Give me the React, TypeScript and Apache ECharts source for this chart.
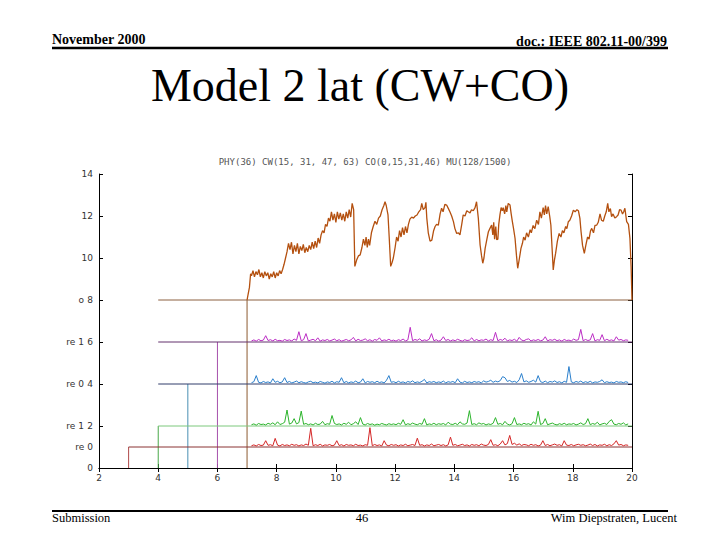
import React, { useEffect, useRef } from "react";
import * as echarts from "echarts";

// ---- Axis ticks / labels ----
const xTicks = [2, 4, 6, 8, 10, 12, 14, 16, 18, 20];
const yTicks = [0, 2, 4, 6, 8, 10, 12, 14];
const sideLabelValues = [1, 2, 4, 6, 8];
const sideLabelTexts = ["re 0", "re 1", "re 0", "re 1", "o"];

// ---- Step frames (vertical rise at x, level, horizontal start) ----
const frameNames = ["red", "green", "blue", "purple", "brown"];
const frameRiseX = [3, 4, 5, 6, 7];
const frameLevel = [1, 2, 4, 6, 8];
const frameStartX = [3, 4, 4, 4, 4];
const frameRiseColors = ["#b04848", "#48a848", "#4a90b4", "#a650ac", "#8c5a30"];
const frameLevelColors = ["#8a3232", "#7cc87c", "#303c6a", "#62306c", "#8c6040"];

// ---- Latency trace (top, brown) ----
const brownPoints: [number, number][] = [
  [7.0, 8.0], [7.04, 8.3], [7.08, 8.6], [7.12, 9.25],
  [7.15, 9.15], [7.2, 9.4], [7.25, 9.1], [7.3, 9.35], [7.35, 9.2], [7.4, 9.45], [7.45, 9.1], [7.5, 9.3], [7.55, 9.05], [7.6, 9.35],
  [7.65, 9.15], [7.7, 9.3], [7.75, 9.0], [7.8, 9.25], [7.85, 9.1], [7.9, 9.35], [7.95, 9.05], [8.0, 9.3], [8.05, 9.15], [8.1, 9.4],
  [8.15, 9.25], [8.2, 9.45], [8.25, 9.7], [8.3, 10.0], [8.35, 10.3], [8.4, 10.7],
  [8.45, 10.4], [8.5, 10.75], [8.55, 10.2], [8.6, 10.6], [8.65, 10.3], [8.7, 10.7], [8.75, 10.2], [8.8, 10.55], [8.85, 10.35],
  [8.9, 10.65], [8.95, 10.25], [9.0, 10.5], [9.05, 10.3], [9.1, 10.6], [9.15, 10.4], [9.2, 10.75], [9.25, 10.45], [9.3, 10.8],
  [9.35, 10.5], [9.4, 10.95], [9.45, 10.7],
  [9.5, 11.1], [9.55, 11.3], [9.6, 11.2], [9.65, 11.6], [9.7, 11.5], [9.75, 11.9],
  [9.8, 11.75], [9.85, 12.2], [9.9, 11.8], [9.95, 12.1], [10.0, 11.7], [10.05, 12.2], [10.1, 11.85], [10.15, 12.15], [10.2, 11.8],
  [10.25, 12.1], [10.3, 11.75], [10.35, 12.2], [10.4, 11.9], [10.45, 12.3], [10.5, 11.95], [10.55, 12.6], [10.6, 12.3],
  [10.64, 9.6], [10.7, 9.9], [10.76, 10.1], [10.82, 10.15], [10.88, 10.5], [10.93, 10.9], [10.98, 10.6], [11.02, 11.0],
  [11.06, 10.5], [11.1, 10.9], [11.14, 10.6], [11.2, 11.2], [11.26, 11.5], [11.32, 11.75], [11.38, 11.6], [11.44, 11.9],
  [11.5, 12.0], [11.56, 12.3], [11.62, 12.5], [11.66, 12.68], [11.7, 12.5], [11.76, 12.05], [11.8, 11.0], [11.85, 9.6],
  [11.9, 9.8], [11.94, 10.0], [12.0, 10.5], [12.05, 11.0], [12.1, 10.8], [12.15, 11.3], [12.2, 11.0], [12.25, 11.45],
  [12.3, 11.1], [12.35, 11.5], [12.4, 11.2], [12.45, 11.6], [12.5, 11.85], [12.56, 11.95], [12.62, 11.9], [12.68, 12.0],
  [12.74, 12.05], [12.8, 12.2], [12.86, 12.3], [12.9, 12.6], [12.95, 12.3], [13.01, 12.4], [13.04, 12.65], [13.07, 11.9],
  [13.12, 11.2], [13.18, 10.8], [13.24, 10.85], [13.3, 11.3], [13.35, 11.5], [13.4, 11.6], [13.46, 11.57], [13.52, 12.1],
  [13.57, 12.37], [13.62, 12.2], [13.68, 12.55], [13.74, 12.52], [13.8, 12.35], [13.85, 12.2], [13.91, 12.0], [13.97, 11.73],
  [14.02, 11.4], [14.08, 11.17], [14.14, 11.2], [14.19, 11.1], [14.25, 11.6], [14.3, 12.05], [14.36, 12.0], [14.42, 12.25],
  [14.47, 12.2], [14.53, 12.15], [14.58, 12.3], [14.64, 12.25], [14.7, 12.4], [14.75, 12.68], [14.81, 11.9], [14.87, 10.62],
  [14.92, 10.1], [14.96, 9.75], [15.0, 10.0], [15.04, 10.46], [15.1, 10.9], [15.15, 11.25], [15.2, 11.4], [15.26, 11.57],
  [15.3, 11.1], [15.33, 11.7], [15.36, 10.9], [15.4, 11.5], [15.43, 10.87], [15.47, 10.9], [15.5, 11.6], [15.54, 12.05],
  [15.58, 12.4], [15.62, 12.25], [15.65, 12.4], [15.7, 12.1], [15.74, 12.5], [15.77, 12.2], [15.82, 12.6], [15.88, 12.52],
  [15.92, 12.1], [15.96, 11.73], [16.0, 11.4], [16.05, 10.94], [16.1, 10.1], [16.14, 9.51], [16.2, 10.0], [16.25, 10.46],
  [16.3, 10.7], [16.34, 11.0], [16.39, 10.85], [16.44, 11.2], [16.5, 11.0], [16.56, 11.35], [16.6, 11.2], [16.66, 11.55],
  [16.72, 11.4], [16.78, 11.8], [16.84, 11.6], [16.89, 12.2], [16.94, 11.9], [17.0, 12.4], [17.04, 12.05], [17.08, 12.5],
  [17.12, 12.1], [17.17, 12.45], [17.22, 12.0], [17.26, 11.57], [17.3, 10.5], [17.34, 9.43], [17.38, 9.9], [17.42, 10.22],
  [17.48, 10.8], [17.54, 11.17], [17.6, 11.0], [17.65, 11.3], [17.7, 11.2], [17.76, 11.5], [17.8, 11.4], [17.85, 11.73],
  [17.9, 11.8], [17.96, 12.0], [18.02, 12.28], [18.08, 12.2], [18.14, 12.3], [18.19, 12.25], [18.24, 11.9], [18.28, 11.25],
  [18.33, 10.6], [18.39, 10.22], [18.44, 10.6], [18.5, 11.0], [18.55, 10.9], [18.6, 11.3], [18.64, 11.41], [18.7, 11.2],
  [18.75, 11.55], [18.81, 11.57], [18.86, 11.7], [18.92, 12.1], [18.97, 11.8], [19.03, 11.75], [19.08, 12.0], [19.13, 12.2],
  [19.18, 12.6], [19.22, 12.2], [19.27, 12.35], [19.31, 11.97], [19.36, 12.1], [19.42, 11.9], [19.48, 11.97], [19.53, 12.05],
  [19.58, 12.3], [19.63, 12.28], [19.68, 12.1], [19.72, 12.2], [19.76, 12.37], [19.82, 11.73], [19.88, 11.6], [19.93, 10.94],
  [19.97, 9.59], [20.0, 8.0],
];

// ---- Low traces: sampled at a fixed period starting at 7.15 ----
const sampleStart = 7.15;
const samplePeriod = 0.08;

const purpleValues = [
  6.05, 6.10, 6.04, 6.12, 6.06, 6.09, 6.30, 6.07, 6.11, 6.05, 6.13, 6.06, 6.08, 6.04, 6.12, 6.07, 6.10, 6.05, 6.14, 6.08,
  6.49, 6.06, 6.11, 6.40, 6.05, 6.09, 6.13, 6.06, 6.20, 6.04, 6.10, 6.07, 6.12, 6.05, 6.09, 6.14, 6.06, 6.11, 6.04, 6.08,
  6.12, 6.06, 6.10, 6.22, 6.05, 6.13, 6.07, 6.09, 6.15, 6.06, 6.11, 6.04, 6.12, 6.08, 6.20, 6.05, 6.10, 6.07, 6.13, 6.06,
  6.09, 6.04, 6.11, 6.07, 6.14, 6.05, 6.10, 6.70, 6.06, 6.12, 6.08, 6.15, 6.05, 6.10, 6.07, 6.13, 6.40, 6.06, 6.11, 6.04,
  6.09, 6.25, 6.07, 6.12, 6.05, 6.10, 6.06, 6.13, 6.08, 6.04, 6.11, 6.07, 6.09, 6.20, 6.05, 6.12, 6.06, 6.10, 6.08, 6.14,
  6.05, 6.11, 6.07, 6.46, 6.06, 6.12, 6.08, 6.18, 6.05, 6.10, 6.07, 6.13, 6.04, 6.22, 6.09, 6.06, 6.12, 6.15, 6.05, 6.10,
  6.07, 6.12, 6.06, 6.09, 6.25, 6.05, 6.11, 6.08, 6.13, 6.06, 6.10, 6.04, 6.12, 6.07, 6.09, 6.05, 6.14, 6.08, 6.11, 6.60,
  6.06, 6.12, 6.07, 6.10, 6.40, 6.05, 6.11, 6.08, 6.35, 6.06, 6.13, 6.07, 6.10, 6.05, 6.25, 6.09, 6.12, 6.06, 6.10, 6.08,
];

const blueValues = [
  4.06, 4.11, 4.40, 4.08, 4.05, 4.12, 4.07, 4.10, 4.05, 4.25, 4.08, 4.13, 4.06, 4.10, 4.30, 4.07, 4.12, 4.05, 4.09, 4.14,
  4.06, 4.11, 4.07, 4.04, 4.10, 4.13, 4.06, 4.09, 4.05, 4.12, 4.08, 4.04, 4.10, 4.07, 4.13, 4.05, 4.11, 4.08, 4.30, 4.06,
  4.12, 4.05, 4.10, 4.07, 4.14, 4.06, 4.09, 4.25, 4.05, 4.12, 4.08, 4.11, 4.06, 4.13, 4.07, 4.10, 4.05, 4.18, 4.40, 4.08,
  4.11, 4.06, 4.13, 4.07, 4.10, 4.05, 4.12, 4.08, 4.15, 4.06, 4.10, 4.07, 4.13, 4.22, 4.05, 4.11, 4.08, 4.12, 4.06, 4.10,
  4.07, 4.14, 4.05, 4.11, 4.08, 4.12, 4.06, 4.25, 4.09, 4.05, 4.13, 4.07, 4.10, 4.06, 4.12, 4.08, 4.11, 4.05, 4.15, 4.09,
  4.12, 4.18, 4.08, 4.14, 4.10, 4.16, 4.35, 4.30, 4.12, 4.17, 4.09, 4.13, 4.07, 4.20, 4.50, 4.10, 4.15, 4.08, 4.12, 4.18,
  4.09, 4.40, 4.11, 4.07, 4.14, 4.06, 4.12, 4.09, 4.15, 4.07, 4.11, 4.05, 4.13, 4.08, 4.83, 4.10, 4.06, 4.12, 4.08, 4.14,
  4.06, 4.11, 4.07, 4.13, 4.05, 4.10, 4.08, 4.12, 4.20, 4.06, 4.11, 4.07, 4.09, 4.05, 4.12, 4.08, 4.10, 4.06, 4.11, 4.07,
];

const greenValues = [
  2.06, 2.10, 2.04, 2.12, 2.07, 2.09, 2.05, 2.13, 2.08, 2.15, 2.06, 2.20, 2.07, 2.11, 2.18, 2.76, 2.09, 2.14, 2.35, 2.10,
  2.16, 2.71, 2.08, 2.12, 2.06, 2.10, 2.05, 2.13, 2.07, 2.09, 2.22, 2.06, 2.11, 2.08, 2.50, 2.12, 2.07, 2.10, 2.05, 2.13,
  2.08, 2.18, 2.06, 2.11, 2.20, 2.07, 2.40, 2.09, 2.05, 2.12, 2.07, 2.10, 2.04, 2.09, 2.06, 2.12, 2.08, 2.05, 2.11, 2.07,
  2.10, 2.06, 2.13, 2.08, 2.30, 2.05, 2.11, 2.07, 2.14, 2.09, 2.06, 2.12, 2.08, 2.35, 2.05, 2.10, 2.07, 2.13, 2.06, 2.11,
  2.08, 2.12, 2.05, 2.18, 2.09, 2.07, 2.13, 2.06, 2.20, 2.10, 2.08, 2.14, 2.73, 2.07, 2.11, 2.06, 2.15, 2.09, 2.12, 2.05,
  2.10, 2.07, 2.13, 2.40, 2.08, 2.12, 2.06, 2.22, 2.09, 2.05, 2.11, 2.40, 2.07, 2.10, 2.06, 2.13, 2.08, 2.11, 2.05, 2.20,
  2.09, 2.70, 2.07, 2.12, 2.35, 2.06, 2.10, 2.14, 2.08, 2.05, 2.11, 2.07, 2.13, 2.06, 2.10, 2.08, 2.12, 2.05, 2.09, 2.15,
  2.07, 2.11, 2.35, 2.06, 2.12, 2.08, 2.18, 2.05, 2.10, 2.13, 2.07, 2.22, 2.30, 2.09, 2.06, 2.12, 2.08, 2.15, 2.05, 2.10,
];

const redValues = [
  1.06, 1.10, 1.05, 1.12, 1.07, 1.09, 1.30, 1.08, 1.11, 1.06, 1.41, 1.09, 1.05, 1.12, 1.07, 1.10, 1.06, 1.13, 1.08, 1.11,
  1.05, 1.10, 1.07, 1.14, 1.08, 1.89, 1.06, 1.11, 1.07, 1.13, 1.05, 1.10, 1.08, 1.12, 1.06, 1.09, 1.30, 1.07, 1.11, 1.05,
  1.12, 1.08, 1.10, 1.06, 1.13, 1.07, 1.09, 1.05, 1.11, 1.08, 1.92, 1.06, 1.12, 1.07, 1.10, 1.05, 1.30, 1.09, 1.06, 1.12,
  1.08, 1.11, 1.05, 1.10, 1.07, 1.13, 1.06, 1.09, 1.12, 1.07, 1.42, 1.08, 1.11, 1.05, 1.10, 1.07, 1.14, 1.06, 1.09, 1.12,
  1.07, 1.11, 1.05, 1.10, 1.47, 1.08, 1.12, 1.06, 1.09, 1.13, 1.07, 1.10, 1.05, 1.12, 1.08, 1.11, 1.06, 1.14, 1.09, 1.07,
  1.12, 1.35, 1.08, 1.11, 1.06, 1.14, 1.30, 1.10, 1.16, 1.55, 1.12, 1.18, 1.09, 1.15, 1.07, 1.12, 1.10, 1.06, 1.13, 1.08,
  1.11, 1.05, 1.09, 1.30, 1.07, 1.12, 1.06, 1.10, 1.14, 1.08, 1.11, 1.05, 1.30, 1.09, 1.07, 1.12, 1.06, 1.10, 1.13, 1.08,
  1.11, 1.06, 1.09, 1.14, 1.07, 1.12, 1.05, 1.10, 1.08, 1.13, 1.06, 1.11, 1.07, 1.15, 1.30, 1.09, 1.12, 1.06, 1.10, 1.08,
];

const traceColors = {
  brown: "#b4500f",
  purple: "#bb2cc4",
  blue: "#2a7fcc",
  green: "#2cb42c",
  red: "#d42626",
};

const plotCaption = "PHY(36) CW(15, 31, 47, 63) CO(0,15,31,46) MU(128/1500)";

function sampled(values: number[]): [number, number][] {
  return values.map((v, i) => [sampleStart + i * samplePeriod, v]);
}

export default function App() {
  const ref = useRef<HTMLDivElement>(null);

  useEffect(() => {
    if (!ref.current) return;
    const chart = echarts.init(ref.current, undefined, { renderer: "svg" });

    const labelStyle = { fontSize: 9, color: "#333", fontFamily: "DejaVu Sans" };
    const axisLine = { show: true, lineStyle: { color: "#000", width: 1 } };

    const riseSeries = frameNames.map((name, k) => ({
      name: name + "-rise",
      type: "line",
      symbol: "none",
      silent: true,
      z: 1,
      lineStyle: { color: frameRiseColors[k], width: 1 },
      data: [
        [frameRiseX[k], 0],
        [frameRiseX[k], frameLevel[k]],
      ],
    }));

    const levelSeries = frameNames.map((name, k) => ({
      name: name + "-level",
      type: "line",
      symbol: "none",
      silent: true,
      z: 1,
      lineStyle: { color: frameLevelColors[k], width: 1 },
      data: [
        [frameStartX[k], frameLevel[k]],
        [20, frameLevel[k]],
      ],
    }));

    const traceSeries = [
      { name: "red", data: sampled(redValues), color: traceColors.red, w: 1 },
      { name: "green", data: sampled(greenValues), color: traceColors.green, w: 1 },
      { name: "blue", data: sampled(blueValues), color: traceColors.blue, w: 1 },
      { name: "purple", data: sampled(purpleValues), color: traceColors.purple, w: 1 },
      { name: "brown", data: brownPoints, color: traceColors.brown, w: 1.3 },
    ].map((s) => ({
      name: s.name,
      type: "line",
      symbol: "none",
      silent: true,
      z: 2,
      lineStyle: { color: s.color, width: s.w },
      data: s.data,
    }));

    const serif = '"Liberation Serif", "Times New Roman", serif';

    chart.setOption({
      animation: false,
      backgroundColor: "#ffffff",
      grid: { left: 99, right: 88, top: 174, bottom: 72, containLabel: false },
      xAxis: [
        {
          type: "value",
          min: xTicks[0],
          max: xTicks[xTicks.length - 1],
          interval: 2,
          position: "bottom",
          axisLine,
          axisTick: { show: true, inside: true, length: 4, lineStyle: { color: "#000" } },
          axisLabel: { ...labelStyle, margin: 5, formatter: (v: number) => String(v) },
          splitLine: { show: false },
        },
        {
          type: "value",
          min: xTicks[0],
          max: xTicks[xTicks.length - 1],
          interval: 2,
          position: "top",
          axisLine,
          axisTick: { show: true, inside: true, length: 4, lineStyle: { color: "#000" } },
          axisLabel: { show: false },
          splitLine: { show: false },
        },
      ],
      yAxis: [
        {
          type: "value",
          min: yTicks[0],
          max: yTicks[yTicks.length - 1],
          interval: 2,
          position: "left",
          axisLine,
          axisTick: { show: true, inside: true, length: 4, lineStyle: { color: "#000" } },
          axisLabel: { ...labelStyle, margin: 6 },
          splitLine: { show: false },
        },
        {
          type: "value",
          min: yTicks[0],
          max: yTicks[yTicks.length - 1],
          interval: 2,
          position: "right",
          axisLine,
          axisTick: { show: true, inside: true, length: 4, lineStyle: { color: "#000" } },
          axisLabel: { show: false },
          splitLine: { show: false },
        },
        {
          type: "value",
          min: yTicks[0],
          max: yTicks[yTicks.length - 1],
          interval: 1,
          position: "left",
          axisLine: { show: false },
          axisTick: { show: false },
          splitLine: { show: false },
          axisLabel: {
            ...labelStyle,
            margin: 6,
            formatter: (v: number) => {
              const idx = sideLabelValues.indexOf(v);
              if (idx < 0) return "";
              const t = sideLabelTexts[idx];
              // value 1 has no numeric tick label beside it
              return v === 1 ? t : "{s|" + t + "}";
            },
            rich: { s: { fontSize: 9, color: "#333", fontFamily: "DejaVu Sans", padding: [0, 9, 0, 0] } },
          },
        },
      ],
      series: [...riseSeries, ...levelSeries, ...traceSeries],
      graphic: [
        {
          type: "text",
          x: 52,
          y: 39,
          style: { text: "November 2000", font: "bold 14px " + serif, fill: "#000", align: "left", verticalAlign: "middle" },
        },
        {
          type: "text",
          x: 667,
          y: 41,
          style: { text: "doc.: IEEE 802.11-00/399", font: "bold 14px " + serif, fill: "#000", align: "right", verticalAlign: "middle" },
        },
        {
          type: "line",
          shape: { x1: 52, y1: 48, x2: 668, y2: 48 },
          style: { stroke: "#000", lineWidth: 2.5 },
        },
        {
          type: "text",
          x: 360,
          y: 85,
          style: { text: "Model 2 lat (CW+CO)", font: "46px " + serif, fill: "#000", align: "center", verticalAlign: "middle" },
        },
        {
          type: "text",
          x: 365,
          y: 162,
          style: { text: plotCaption, font: '9px "DejaVu Sans Mono", monospace', fill: "#555", align: "center", verticalAlign: "middle" },
        },
        {
          type: "line",
          shape: { x1: 52, y1: 511, x2: 668, y2: 511 },
          style: { stroke: "#000", lineWidth: 2 },
        },
        {
          type: "text",
          x: 52,
          y: 518,
          style: { text: "Submission", font: "12.5px " + serif, fill: "#000", align: "left", verticalAlign: "middle" },
        },
        {
          type: "text",
          x: 362,
          y: 518,
          style: { text: "46", font: "12.5px " + serif, fill: "#000", align: "center", verticalAlign: "middle" },
        },
        {
          type: "text",
          x: 677,
          y: 518,
          style: { text: "Wim Diepstraten, Lucent", font: "12.5px " + serif, fill: "#000", align: "right", verticalAlign: "middle" },
        },
      ],
    });

    return () => chart.dispose();
  }, []);

  return (
    <div
      ref={ref}
      style={{ position: "absolute", left: 0, top: 0, width: 720, height: 540, background: "#fff" }}
    />
  );
}
